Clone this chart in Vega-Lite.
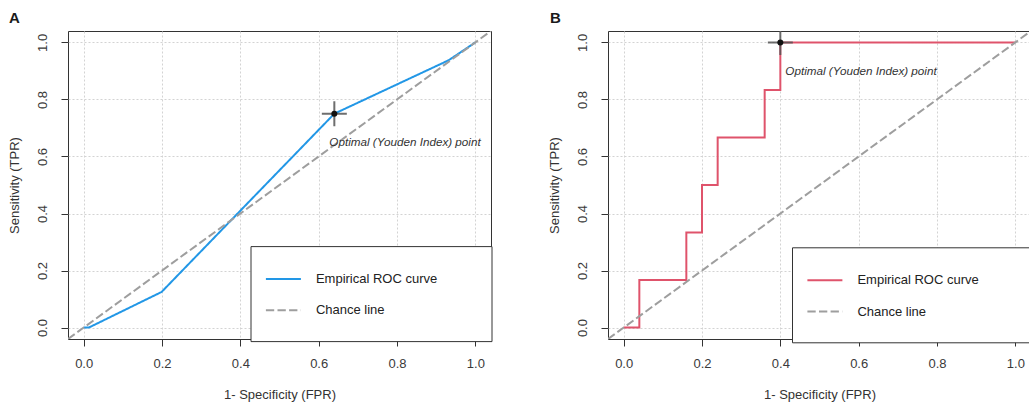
{
  "$schema": "https://vega.github.io/schema/vega-lite/v6.json",
  "background": "white",
  "padding": {"left": 8, "top": 10, "right": -5, "bottom": 0},
  "config": {
    "font": "Liberation Sans",
    "view": {"stroke": "#333333", "strokeWidth": 1},
    "axis": {
      "domain": false,
      "grid": true,
      "gridColor": "#d3d3d3",
      "gridDash": [2, 2],
      "gridWidth": 1,
      "ticks": true,
      "tickColor": "#333333",
      "tickSize": 7,
      "tickWidth": 1,
      "labelFontSize": 13,
      "labelColor": "#3a3a3a",
      "labelOverlap": false,
      "labelFlush": false,
      "titleFontSize": 13,
      "titleFontWeight": "normal",
      "titleColor": "#333333"
    },
    "axisX": {"labelPadding": 11.5, "titleY": 55, "titleBaseline": "middle"},
    "axisY": {"labelAngle": 270, "labelAlign": "center", "labelBaseline": "alphabetic", "labelPadding": 15, "titleX": -53.5, "titleBaseline": "middle", "titleAngle": 270},
    "legend": {
      "orient": "none",
      "symbolType": "stroke",
      "symbolSize": 1225,
      "symbolStrokeWidth": 2,
      "labelFontSize": 13,
      "labelColor": "#222222",
      "labelOffset": 14,
      "labelLimit": 0,
      "padding": 14.4,
      "rowPadding": 5.3,
      "fillColor": "white",
      "strokeColor": "#333333",
      "titleOrient": "bottom",
      "titleFontSize": 1,
      "titlePadding": 7.8,
      "titleColor": "white"
    }
  },
  "datasets": {
    "rocA": [
      {"fpr": 0, "tpr": 0, "series": "Empirical ROC curve", "ord": 0},
      {"fpr": 0.013, "tpr": 0, "series": "Empirical ROC curve", "ord": 1},
      {"fpr": 0.199, "tpr": 0.125, "series": "Empirical ROC curve", "ord": 2},
      {"fpr": 0.64, "tpr": 0.75, "series": "Empirical ROC curve", "ord": 3},
      {"fpr": 0.932, "tpr": 0.9375, "series": "Empirical ROC curve", "ord": 4},
      {"fpr": 1, "tpr": 1, "series": "Empirical ROC curve", "ord": 5},
      {"fpr": -0.04, "tpr": -0.04, "series": "Chance line", "ord": 0},
      {"fpr": 1.04, "tpr": 1.04, "series": "Chance line", "ord": 1}
    ],
    "optA": [
      {"fpr": 0.64, "tpr": 0.75, "label": "Optimal (Youden Index) point"}
    ],
    "rocB": [
      {"fpr": 0, "tpr": 0, "series": "Empirical ROC curve", "ord": 0},
      {"fpr": 0.04, "tpr": 0, "series": "Empirical ROC curve", "ord": 1},
      {"fpr": 0.04, "tpr": 0.1667, "series": "Empirical ROC curve", "ord": 2},
      {"fpr": 0.16, "tpr": 0.1667, "series": "Empirical ROC curve", "ord": 3},
      {"fpr": 0.16, "tpr": 0.3333, "series": "Empirical ROC curve", "ord": 4},
      {"fpr": 0.2, "tpr": 0.3333, "series": "Empirical ROC curve", "ord": 5},
      {"fpr": 0.2, "tpr": 0.5, "series": "Empirical ROC curve", "ord": 6},
      {"fpr": 0.24, "tpr": 0.5, "series": "Empirical ROC curve", "ord": 7},
      {"fpr": 0.24, "tpr": 0.6667, "series": "Empirical ROC curve", "ord": 8},
      {"fpr": 0.36, "tpr": 0.6667, "series": "Empirical ROC curve", "ord": 9},
      {"fpr": 0.36, "tpr": 0.8333, "series": "Empirical ROC curve", "ord": 10},
      {"fpr": 0.4, "tpr": 0.8333, "series": "Empirical ROC curve", "ord": 11},
      {"fpr": 0.4, "tpr": 1, "series": "Empirical ROC curve", "ord": 12},
      {"fpr": 1, "tpr": 1, "series": "Empirical ROC curve", "ord": 13},
      {"fpr": -0.04, "tpr": -0.04, "series": "Chance line", "ord": 0},
      {"fpr": 1.04, "tpr": 1.04, "series": "Chance line", "ord": 1}
    ],
    "optB": [
      {"fpr": 0.4, "tpr": 1, "label": "Optimal (Youden Index) point"}
    ]
  },
  "hconcat": [
    {
      "width": 423,
      "height": 308,
      "title": {"text": "A", "anchor": "start", "frame": "group", "dx": -59, "offset": -7, "baseline": "alphabetic", "fontSize": 15, "fontWeight": "bold", "color": "#1a1a1a"},
      "data": {"name": "rocA"},
      "encoding": {
        "x": {"field": "fpr", "type": "quantitative", "scale": {"domain": [-0.04, 1.04], "nice": false, "zero": false}, "axis": {"values": [0, 0.2, 0.4, 0.6, 0.8, 1], "format": ".1f", "title": "1- Specificity (FPR)"}},
        "y": {"field": "tpr", "type": "quantitative", "scale": {"domain": [-0.04, 1.04], "nice": false, "zero": false}, "axis": {"values": [0, 0.2, 0.4, 0.6, 0.8, 1], "format": ".1f", "title": "Sensitivity (TPR)"}}
      },
      "layer": [
        {
          "transform": [{"filter": "datum.series === 'Empirical ROC curve'"}],
          "mark": {"type": "line", "strokeWidth": 2, "clip": true},
          "encoding": {
            "order": {"field": "ord", "type": "quantitative"},
            "color": {"field": "series", "type": "nominal", "scale": {"domain": ["Empirical ROC curve", "Chance line"], "range": ["#2297E6", "#9E9E9E"]}, "legend": {"title": " ", "legendX": 182.5, "legendY": 215.1, "labelExpr": "datum.label + '           \u200b'"}},
            "strokeDash": {"field": "series", "type": "nominal", "scale": {"domain": ["Empirical ROC curve", "Chance line"], "range": [[1, 0], [8.3, 3.3]]}, "legend": {"title": " ", "legendX": 182.5, "legendY": 215.1, "labelExpr": "datum.label + '           \u200b'"}}
          }
        },
        {
          "transform": [{"filter": "datum.series === 'Chance line'"}],
          "mark": {"type": "line", "strokeWidth": 2, "clip": true},
          "encoding": {
            "order": {"field": "ord", "type": "quantitative"},
            "color": {"field": "series", "type": "nominal", "scale": {"domain": ["Empirical ROC curve", "Chance line"], "range": ["#2297E6", "#9E9E9E"]}, "legend": {"title": " ", "legendX": 182.5, "legendY": 215.1, "labelExpr": "datum.label + '           \u200b'"}},
            "strokeDash": {"field": "series", "type": "nominal", "scale": {"domain": ["Empirical ROC curve", "Chance line"], "range": [[1, 0], [8.3, 3.3]]}, "legend": {"title": " ", "legendX": 182.5, "legendY": 215.1, "labelExpr": "datum.label + '           \u200b'"}}
          }
        },
        {
          "data": {"name": "optA"},
          "mark": {"type": "point", "shape": "M-1,0L1,0M0,-1L0,1", "size": 625, "filled": false, "color": "#555555", "strokeWidth": 2, "opacity": 0.85, "clip": true}
        },
        {
          "data": {"name": "optA"},
          "mark": {"type": "point", "shape": "circle", "filled": true, "color": "#111111", "size": 36, "opacity": 1}
        },
        {
          "data": {"name": "optA"},
          "mark": {"type": "text", "align": "left", "baseline": "middle", "dx": -5, "dy": 28, "fontSize": 11.7, "fontStyle": "italic", "color": "#333333"},
          "encoding": {"text": {"field": "label"}}
        }
      ]
    },
    {
      "width": 423,
      "height": 308,
      "title": {"text": "B", "anchor": "start", "frame": "group", "dx": -58, "offset": -7, "baseline": "alphabetic", "fontSize": 15, "fontWeight": "bold", "color": "#1a1a1a"},
      "data": {"name": "rocB"},
      "encoding": {
        "x": {"field": "fpr", "type": "quantitative", "scale": {"domain": [-0.04, 1.04], "nice": false, "zero": false}, "axis": {"values": [0, 0.2, 0.4, 0.6, 0.8, 1], "format": ".1f", "title": "1- Specificity (FPR)"}},
        "y": {"field": "tpr", "type": "quantitative", "scale": {"domain": [-0.04, 1.04], "nice": false, "zero": false}, "axis": {"values": [0, 0.2, 0.4, 0.6, 0.8, 1], "format": ".1f", "title": "Sensitivity (TPR)"}}
      },
      "layer": [
        {
          "transform": [{"filter": "datum.series === 'Empirical ROC curve'"}],
          "mark": {"type": "line", "strokeWidth": 2, "clip": true},
          "encoding": {
            "order": {"field": "ord", "type": "quantitative"},
            "color": {"field": "series", "type": "nominal", "scale": {"domain": ["Empirical ROC curve", "Chance line"], "range": ["#DF536B", "#9E9E9E"]}, "legend": {"title": " ", "legendX": 184, "legendY": 216.3, "labelExpr": "datum.label + '           \u200b'"}},
            "strokeDash": {"field": "series", "type": "nominal", "scale": {"domain": ["Empirical ROC curve", "Chance line"], "range": [[1, 0], [8.3, 3.3]]}, "legend": {"title": " ", "legendX": 184, "legendY": 216.3, "labelExpr": "datum.label + '           \u200b'"}}
          }
        },
        {
          "transform": [{"filter": "datum.series === 'Chance line'"}],
          "mark": {"type": "line", "strokeWidth": 2, "clip": true},
          "encoding": {
            "order": {"field": "ord", "type": "quantitative"},
            "color": {"field": "series", "type": "nominal", "scale": {"domain": ["Empirical ROC curve", "Chance line"], "range": ["#DF536B", "#9E9E9E"]}, "legend": {"title": " ", "legendX": 184, "legendY": 216.3, "labelExpr": "datum.label + '           \u200b'"}},
            "strokeDash": {"field": "series", "type": "nominal", "scale": {"domain": ["Empirical ROC curve", "Chance line"], "range": [[1, 0], [8.3, 3.3]]}, "legend": {"title": " ", "legendX": 184, "legendY": 216.3, "labelExpr": "datum.label + '           \u200b'"}}
          }
        },
        {
          "data": {"name": "optB"},
          "mark": {"type": "point", "shape": "M-1,0L1,0M0,-1L0,1", "size": 625, "filled": false, "color": "#555555", "strokeWidth": 2, "opacity": 0.85, "clip": true}
        },
        {
          "data": {"name": "optB"},
          "mark": {"type": "point", "shape": "circle", "filled": true, "color": "#111111", "size": 36, "opacity": 1}
        },
        {
          "data": {"name": "optB"},
          "mark": {"type": "text", "align": "left", "baseline": "middle", "dx": 5, "dy": 29, "fontSize": 11.7, "fontStyle": "italic", "color": "#333333"},
          "encoding": {"text": {"field": "label"}}
        }
      ]
    }
  ],
  "spacing": 117,
  "bounds": "flush",
  "resolve": {
    "scale": {"color": "independent", "strokeDash": "independent"},
    "legend": {"color": "independent", "strokeDash": "independent"}
  }
}
